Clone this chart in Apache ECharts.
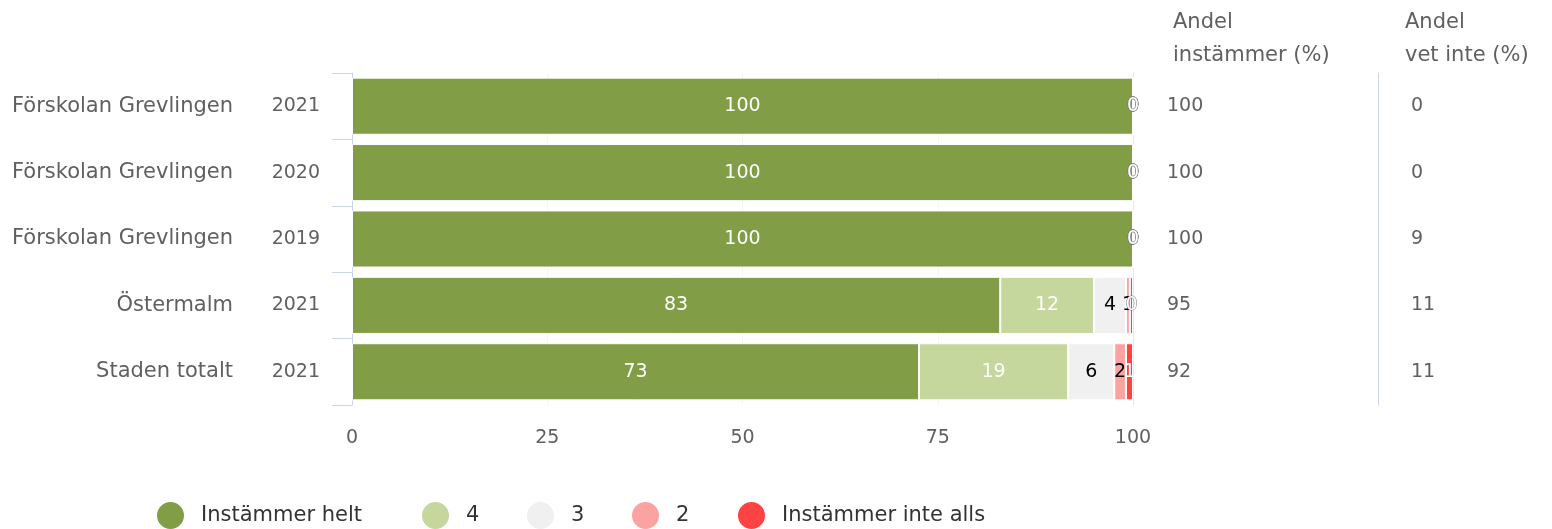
<!DOCTYPE html>
<html>
<head>
<meta charset="utf-8">
<script src="https://cdn.jsdelivr.net/npm/echarts@6/dist/echarts.min.js"></script>
<style>
html,body{margin:0;padding:0;background:#fff;}
#chart{width:1552px;height:529px;}
</style>
</head>
<body>
<div id="chart"></div>
<script>
var categories = ['Förskolan Grevlingen', 'Förskolan Grevlingen', 'Förskolan Grevlingen', 'Östermalm', 'Staden totalt'];
var years = ['2021', '2020', '2019', '2021', '2021'];
var seriesNames = ['Instämmer helt', '4', '3', '2', 'Instämmer inte alls'];
var instammerHelt = [100, 100, 100, 83.0, 72.6];
var val4 = [0, 0, 0, 12.0, 19.1];
var val3 = [0, 0, 0, 4.1, 5.9];
var val2 = [0, 0, 0, 0.5, 1.5];
var instammerInteAlls = [0, 0, 0, 0.4, 0.9];
var andelInstammer = [100, 100, 100, 95, 92];
var andelVetInte = [0, 0, 9, 11, 11];
var xTicks = [0, 25, 50, 75, 100];
var headers = ['Andel\ninstämmer (%)', 'Andel\nvet inte (%)'];

var FONT = 'DejaVu Sans';
var TXT = '#606060';
var colors = ['#819d45', '#c5d79c', '#f0f0f0', '#fba3a3', '#ff4343'];
var labelColors = ['#ffffff', '#ffffff', '#000000', '#000000', '#ffffff'];
var allValues = [instammerHelt, val4, val3, val2, instammerInteAlls];
var legendLefts = [150, 415, 520, 625, 731];

var rows = categories.map(function (c, i) { return c + '|' + years[i] + '|' + i; });

var series = allValues.map(function (arr, si) {
  return {
    name: seriesNames[si],
    type: 'bar',
    stack: 'total',
    barCategoryGap: '14%',
    itemStyle: { color: colors[si], borderColor: '#ffffff', borderWidth: 1 },
    label: {
      show: true,
      position: 'inside',
      fontFamily: FONT,
      fontSize: 19,
      color: labelColors[si],
      formatter: function (p) { return Math.round(p.value); }
    },
    data: arr.map(function (v) {
      if (v < 0.45) {
        return { value: v, label: { color: '#ffffff', textBorderColor: '#777777', textBorderWidth: 1 } };
      }
      return v;
    })
  };
});

var legends = seriesNames.map(function (n, i) {
  return {
    left: legendLefts[i],
    top: 495,
    icon: 'circle',
    itemWidth: 51,
    itemHeight: 29,
    textStyle: { fontFamily: FONT, fontSize: 21, color: '#333333' },
    data: [n]
  };
});

var chart = echarts.init(document.getElementById('chart'), null, { renderer: 'canvas' });
chart.setOption({
  animation: false,
  textStyle: { fontFamily: FONT },
  grid: { left: 352, right: 419, top: 73, bottom: 124, containLabel: false },
  legend: legends,
  xAxis: {
    type: 'value',
    min: 0,
    max: 100,
    interval: 25,
    axisLine: { show: false },
    axisTick: { show: false },
    splitLine: { show: true, lineStyle: { color: '#f5f5f5', width: 1 } },
    axisLabel: {
      margin: 24,
      fontSize: 19,
      fontFamily: FONT,
      color: TXT,
      formatter: function (v) { return xTicks.indexOf(v) >= 0 ? String(v) : ''; }
    }
  },
  yAxis: [
    {
      type: 'category',
      inverse: true,
      data: rows,
      axisLine: { show: true, lineStyle: { color: '#ccd6eb', width: 1 } },
      axisTick: { show: true, length: 20, lineStyle: { color: '#ccd6eb', width: 1 } },
      axisLabel: {
        margin: 32,
        fontFamily: FONT,
        fontSize: 20,
        color: TXT,
        formatter: function (v) {
          var p = v.split('|');
          return '{n|' + p[0] + '}{y|' + p[1] + '}';
        },
        rich: {
          n: { fontFamily: FONT, fontSize: 21, color: TXT, align: 'right', width: 240 },
          y: { fontFamily: FONT, fontSize: 19, color: TXT, align: 'right', width: 87 }
        }
      }
    },
    {
      type: 'category',
      inverse: true,
      position: 'right',
      data: andelInstammer.map(String),
      axisLine: { show: true, lineStyle: { color: '#e6e6e6', width: 1 } },
      axisTick: { show: false },
      axisLabel: { margin: 34, fontFamily: FONT, fontSize: 19, color: TXT, align: 'left' }
    },
    {
      type: 'category',
      inverse: true,
      position: 'right',
      offset: 245,
      data: andelVetInte.map(String),
      axisLine: { show: true, lineStyle: { color: '#ccd6eb', width: 1 } },
      axisTick: { show: false },
      axisLabel: { margin: 33, fontFamily: FONT, fontSize: 19, color: TXT, align: 'left' }
    }
  ],
  graphic: [
    { type: 'text', left: 1173, top: 6, style: { text: headers[0], fontFamily: FONT, fontSize: 21, lineHeight: 33, fill: TXT } },
    { type: 'text', left: 1405, top: 6, style: { text: headers[1], fontFamily: FONT, fontSize: 21, lineHeight: 33, fill: TXT } }
  ],
  series: series
});
</script>
</body>
</html>
